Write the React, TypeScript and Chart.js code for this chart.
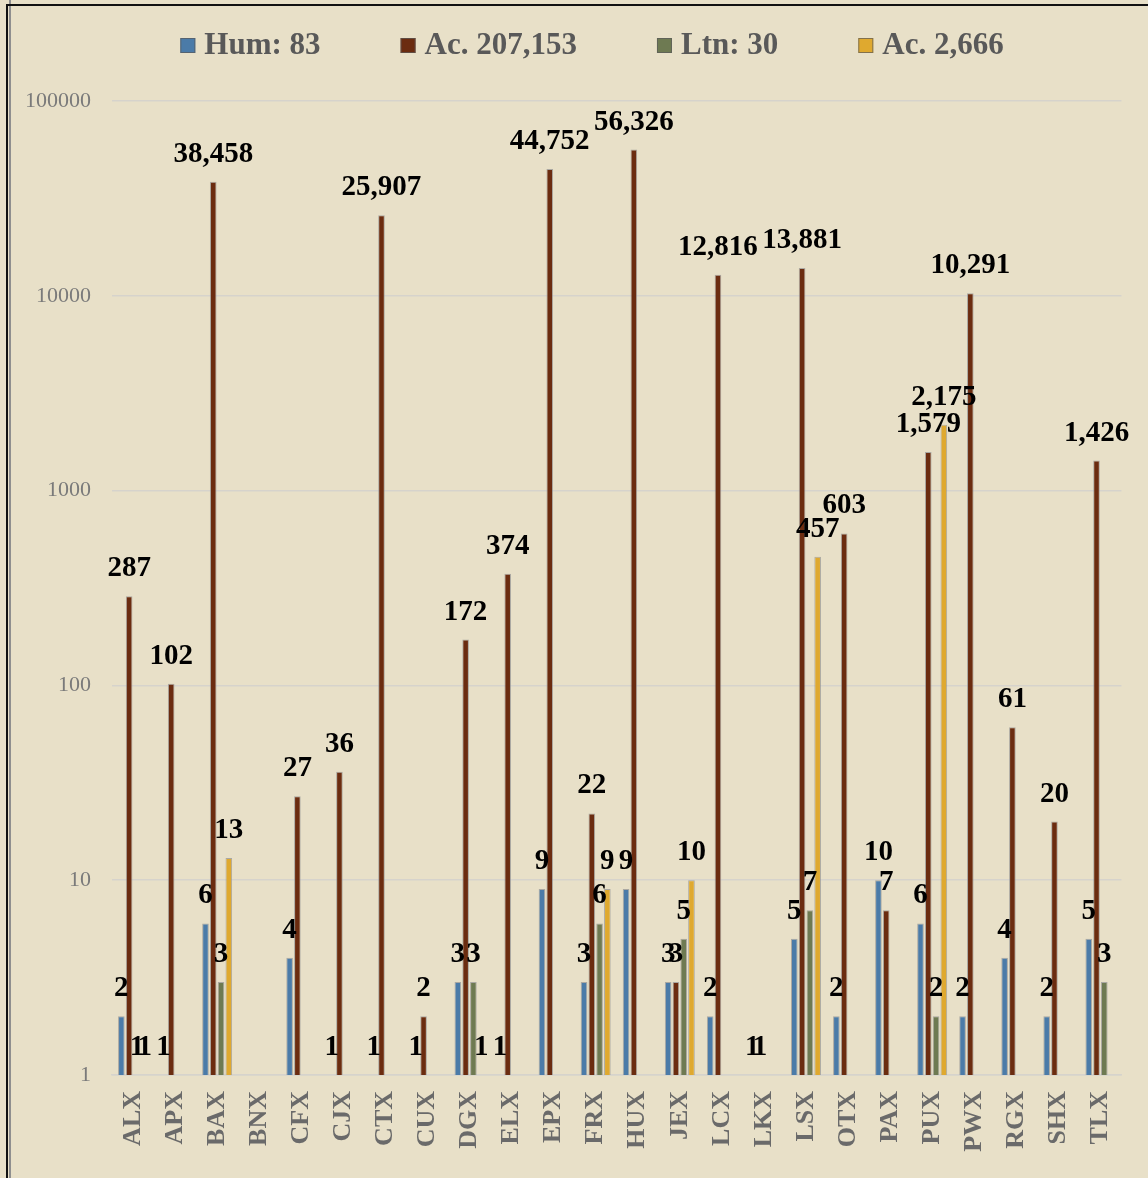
import React, { useEffect, useRef } from "react";
import { Chart, registerables } from "chart.js";

Chart.register(...registerables);

const categories = ["ALX", "APX", "BAX", "BNX", "CFX", "CJX", "CTX", "CUX", "DGX", "ELX", "EPX", "FRX", "HUX", "JEX", "LCX", "LKX", "LSX", "OTX", "PAX", "PUX", "PWX", "RGX", "SHX", "TLX"];
const humValues = [2, 1, 6, null, 4, 1, 1, 1, 3, 1, 9, 3, 9, 3, 2, 1, 5, 2, 10, 6, 2, 4, 2, 5];
const acValues = [287, 102, 38458, null, 27, 36, 25907, 2, 172, 374, 44752, 22, 56326, 3, 12816, 1, 13881, 603, 7, 1579, 10291, 61, 20, 1426];
const ltnValues = [1, null, 3, null, null, null, null, null, 3, null, null, 6, null, 5, null, null, 7, null, null, 2, null, null, null, 3];
const ac2Values = [1, null, 13, null, null, null, null, null, 1, null, null, 9, null, 10, null, null, 457, null, null, 2175, null, null, null, null];
const seriesLabels = ["Hum: 83", "Ac. 207,153", "Ltn: 30", "Ac. 2,666"];
const yTickValues = [1, 10, 100, 1000, 10000, 100000];

const seriesColors = ["#4B7BA8", "#6B2C10", "#6E7A52", "#DFA92F"];
const FONT = '"Liberation Serif", "Times New Roman", serif';

const valueLabelPlugin = {
  id: "valueLabels",
  afterDatasetsDraw(chart: any) {
    const ctx = chart.ctx;
    ctx.save();
    ctx.font = `bold 29px ${FONT}`;
    ctx.fillStyle = "#000";
    ctx.textAlign = "center";
    ctx.textBaseline = "alphabetic";
    chart.data.datasets.forEach((ds: any, di: number) => {
      const meta = chart.getDatasetMeta(di);
      meta.data.forEach((el: any, i: number) => {
        const v = ds.data[i];
        if (v == null) return;
        ctx.fillText(Number(v).toLocaleString("en-US"), el.x, el.y - 20);
      });
    });
    ctx.restore();
  },
};

const legendPlugin = {
  id: "customLegend",
  afterDraw(chart: any) {
    const ctx = chart.ctx;
    ctx.save();
    ctx.font = `bold 31px ${FONT}`;
    const box = 15;
    const textGap = 9;
    const gap = 80;
    const items = chart.data.datasets.map((ds: any) => ({ label: ds.label, color: ds.backgroundColor }));
    const widths = items.map((it: any) => box + textGap + ctx.measureText(it.label).width);
    const total = widths.reduce((a: number, b: number) => a + b, 0) + gap * (items.length - 1);
    let x = 592 - total / 2;
    const y = 45;
    items.forEach((it: any, i: number) => {
      ctx.fillStyle = it.color;
      ctx.fillRect(x, y - 7, box, box);
      ctx.strokeStyle = "rgba(90,90,90,0.7)";
      ctx.lineWidth = 1;
      ctx.strokeRect(x + 0.5, y - 6.5, box - 1, box - 1);
      ctx.fillStyle = "#595959";
      ctx.textAlign = "left";
      ctx.textBaseline = "middle";
      ctx.fillText(it.label, x + box + textGap, y + 1);
      x += widths[i] + gap;
    });
    ctx.restore();
  },
};

export default function App() {
  const canvasRef = useRef<HTMLCanvasElement | null>(null);

  useEffect(() => {
    if (!canvasRef.current) return;
    const seriesData = [humValues, acValues, ltnValues, ac2Values];
    const chart = new Chart(canvasRef.current, {
      type: "bar",
      data: {
        labels: categories,
        datasets: seriesData.map((d, i) => ({
          label: seriesLabels[i],
          data: d,
          backgroundColor: seriesColors[i],
          borderColor: "rgba(150,150,150,0.75)",
          borderWidth: 1,
          categoryPercentage: 0.74,
          barPercentage: 0.85,
        })),
      },
      options: {
        animation: false,
        responsive: false,
        layout: { padding: { left: 27, right: 19, top: 101, bottom: 0 } },
        plugins: {
          legend: { display: false },
          tooltip: { enabled: false },
        },
        scales: {
          x: {
            grid: { display: false, drawTicks: false },
            border: { display: true, color: "#d6d3cc", width: 1.5 },
            ticks: {
              autoSkip: false,
              minRotation: 90,
              maxRotation: 90,
              padding: 16,
              color: "#6a6a6a",
              font: { family: FONT, size: 26, weight: "bold" },
            },
            afterFit: (s: any) => {
              s.height = 103;
            },
          },
          y: {
            type: "logarithmic",
            min: 1,
            max: 100000,
            afterBuildTicks: (s: any) => {
              s.ticks = yTickValues.map((v) => ({ value: v }));
            },
            ticks: {
              callback: (v: any) => String(v),
              color: "#7a7a7a",
              padding: 21,
              font: { family: FONT, size: 22 },
            },
            grid: { color: "#d6d3cc", lineWidth: 1.5, drawTicks: false },
            border: { display: false },
            afterFit: (s: any) => {
              s.width = 85;
            },
          },
        },
      },
      plugins: [valueLabelPlugin, legendPlugin],
    } as any);
    return () => chart.destroy();
  }, []);

  return (
    <div style={{ position: "fixed", left: 0, top: 0, width: 1148, height: 1178, background: "#E8E0C8", overflow: "hidden" }}>
      <div style={{ position: "absolute", left: 9, top: 0, width: 2, height: 1178, background: "#8f8f8f" }} />
      <div style={{ position: "absolute", left: 6, top: 4, width: 1142, height: 1174, borderLeft: "2px solid #111", borderTop: "2px solid #111", boxSizing: "border-box" }} />
      <canvas ref={canvasRef} width={1148} height={1178} style={{ position: "absolute", left: 0, top: 0 }} />
    </div>
  );
}
